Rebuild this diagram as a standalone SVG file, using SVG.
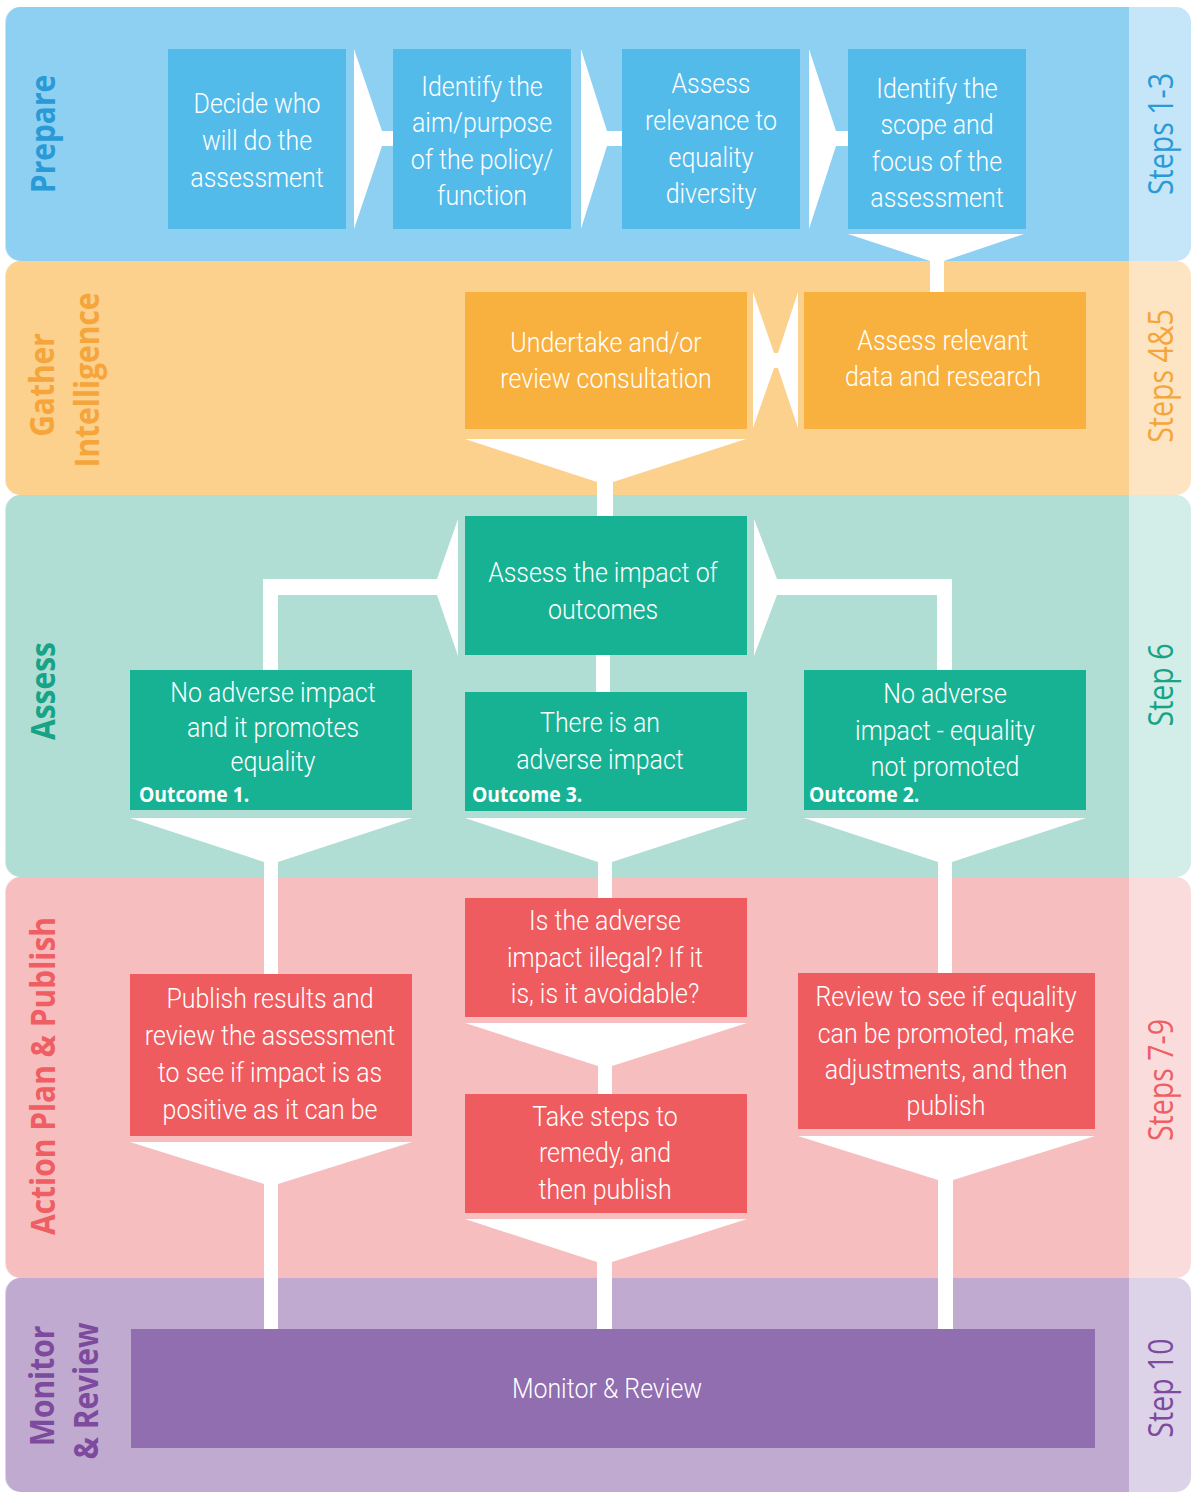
<svg xmlns="http://www.w3.org/2000/svg" width="1191" height="1493" viewBox="0 0 1191 1493">
<style>
.bt{font-family:Roboto,"Liberation Sans",sans-serif;font-weight:300;font-size:28px;fill:#fff;text-anchor:middle}
.lab{font-family:"Open Sans","Liberation Sans",sans-serif;font-weight:700;font-size:34px;text-anchor:middle}
.step{font-family:"Open Sans","Liberation Sans",sans-serif;font-weight:400;font-size:34px;text-anchor:middle}
.oc{font-family:"Open Sans","Liberation Sans",sans-serif;font-weight:700;font-size:21px;fill:#fff}
.blue{fill:#2A9AD6}.orange{fill:#F5A53A}.teal{fill:#16A386}.red{fill:#EE5E62}.purple{fill:#7D4A9E}
.bx1{fill:#52BBEA}.bx2{fill:#F8B03F}.bx3{fill:#17B294}.bx4{fill:#EE5C5F}.bx5{fill:#906EAF}
</style>
<rect width="1191" height="1493" fill="#fff"/>
<g id="bands">
<g id="band-prepare">
<rect x="5" y="7" width="1186" height="254" rx="15" fill="#C5E6F8"/>
<path d="M21,7 H1129 V261 H21 A15,15 0 0 1 6,246 V22 A15,15 0 0 1 21,7 Z" fill="#8DD0F2"/>
<text class="lab blue" transform="translate(55,134) rotate(-90) scale(0.88,1)">Prepare</text>
<text class="step blue" transform="translate(1173,134) rotate(-90) scale(0.84,1)">Steps 1-3</text>
</g>
<g id="band-gather">
<rect x="5" y="261" width="1186" height="234" rx="15" fill="#FDE5C3"/>
<path d="M21,261 H1129 V495 H21 A15,15 0 0 1 6,480 V276 A15,15 0 0 1 21,261 Z" fill="#FCD08D"/>
<text class="lab orange" transform="translate(54,385) rotate(-90) scale(0.88,1)">Gather</text>
<text class="lab orange" transform="translate(99,380) rotate(-90) scale(0.88,1)">Intelligence</text>
<text class="step orange" transform="translate(1173,376) rotate(-90) scale(0.84,1)">Steps 4&amp;5</text>
</g>
<g id="band-assess">
<rect x="5" y="495" width="1186" height="382" rx="15" fill="#D3EDE8"/>
<path d="M21,495 H1129 V877 H21 A15,15 0 0 1 6,862 V510 A15,15 0 0 1 21,495 Z" fill="#B0DDD4"/>
<text class="lab teal" transform="translate(55,691) rotate(-90) scale(0.88,1)">Assess</text>
<text class="step teal" transform="translate(1173,685) rotate(-90) scale(0.84,1)">Step 6</text>
</g>
<g id="band-action">
<rect x="5" y="877" width="1186" height="401" rx="15" fill="#FADCDC"/>
<path d="M21,877 H1129 V1278 H21 A15,15 0 0 1 6,1263 V892 A15,15 0 0 1 21,877 Z" fill="#F7BEC0"/>
<text class="lab red" transform="translate(55,1076) rotate(-90) scale(0.88,1)">Action Plan &amp; Publish</text>
<text class="step red" transform="translate(1173,1080) rotate(-90) scale(0.84,1)">Steps 7-9</text>
</g>
<g id="band-monitor">
<rect x="5" y="1278" width="1186" height="214" rx="15" fill="#DCD3E8"/>
<path d="M21,1278 H1129 V1492 H21 A15,15 0 0 1 6,1477 V1293 A15,15 0 0 1 21,1278 Z" fill="#C0AACF"/>
<text class="lab purple" transform="translate(54,1386) rotate(-90) scale(0.88,1)">Monitor</text>
<text class="lab purple" transform="translate(98,1391) rotate(-90) scale(0.88,1)">&amp; Review</text>
<text class="step purple" transform="translate(1173,1388) rotate(-90) scale(0.84,1)">Step 10</text>
</g>
</g>
<g id="connectors" fill="#fff">
<path d="M354,49 L382,131 L393,131 L393,146 L382,146 L354,229 Z"/>
<path d="M581,49 L607,131 L622,131 L622,146 L607,146 L581,229 Z"/>
<path d="M809,49 L836,131 L848,131 L848,146 L836,146 L809,229 Z"/>
<path d="M848,234 L1024,234 L944,261 L944,292 L930,292 L930,261 Z"/>
<path d="M753,292 L774,353 L778,353 L798,292 L798,428 L778,368 L774,368 L753,428 Z"/>
<path d="M465,439 L746,439 L613,482 L613,516 L597,516 L597,482 Z"/>
<path d="M458,519 L437,579 L263,579 L263,670 L278,670 L278,595 L437,595 L458,656 Z"/>
<path d="M754,519 L777,579 L952,579 L952,670 L937,670 L937,595 L777,595 L754,656 Z"/>
<rect x="596" y="655" width="14" height="37"/>
<path d="M130,818 L412,818 L278,862 L278,974 L264,974 L264,862 Z"/>
<path d="M465,818 L747,818 L612,862 L612,898 L598,898 L598,862 Z"/>
<path d="M804,818 L1086,818 L952,862 L952,973 L938,973 L938,862 Z"/>
<path d="M130,1142 L412,1142 L278,1184 L278,1330 L264,1330 L264,1184 Z"/>
<path d="M465,1023 L747,1023 L612,1066 L612,1094 L598,1094 L598,1066 Z"/>
<path d="M465,1219 L747,1219 L612,1262 L612,1330 L597,1330 L597,1262 Z"/>
<path d="M798,1136 L1095,1136 L953,1180 L953,1330 L938,1330 L938,1180 Z"/>
</g>
<g id="n1"><rect class="bx1" x="168" y="49" width="178" height="180"/>
<g transform="translate(257,0) scale(0.89,1)"><text class="bt"><tspan x="0" y="113">Decide who</tspan><tspan x="0" y="150">will do the</tspan><tspan x="0" y="187">assessment</tspan></text></g></g>
<g id="n2"><rect class="bx1" x="393" y="49" width="178" height="180"/>
<g transform="translate(482,0) scale(0.89,1)"><text class="bt"><tspan x="0" y="96">Identify the</tspan><tspan x="0" y="132">aim/purpose</tspan><tspan x="0" y="169">of the policy/</tspan><tspan x="0" y="205">function</tspan></text></g></g>
<g id="n3"><rect class="bx1" x="622" y="49" width="178" height="180"/>
<g transform="translate(711,0) scale(0.89,1)"><text class="bt"><tspan x="0" y="93">Assess</tspan><tspan x="0" y="130">relevance to</tspan><tspan x="0" y="167">equality</tspan><tspan x="0" y="203">diversity</tspan></text></g></g>
<g id="n4"><rect class="bx1" x="848" y="49" width="178" height="180"/>
<g transform="translate(937,0) scale(0.89,1)"><text class="bt"><tspan x="0" y="98">Identify the</tspan><tspan x="0" y="134">scope and</tspan><tspan x="0" y="171">focus of the</tspan><tspan x="0" y="207">assessment</tspan></text></g></g>
<g id="n5"><rect class="bx2" x="465" y="292" width="282" height="137"/>
<g transform="translate(606,0) scale(0.89,1)"><text class="bt"><tspan x="0" y="352">Undertake and/or</tspan><tspan x="0" y="388">review consultation</tspan></text></g></g>
<g id="n6"><rect class="bx2" x="804" y="292" width="282" height="137"/>
<g transform="translate(943,0) scale(0.89,1)"><text class="bt"><tspan x="0" y="350">Assess relevant</tspan><tspan x="0" y="386">data and research</tspan></text></g></g>
<g id="n7"><rect class="bx3" x="465" y="516" width="282" height="139"/>
<g transform="translate(603,0) scale(0.89,1)"><text class="bt"><tspan x="0" y="582">Assess the impact of</tspan><tspan x="0" y="619">outcomes</tspan></text></g></g>
<g id="n8"><rect class="bx3" x="130" y="670" width="282" height="140"/>
<g transform="translate(273,0) scale(0.89,1)"><text class="bt"><tspan x="0" y="702">No adverse impact</tspan><tspan x="0" y="737">and it promotes</tspan><tspan x="0" y="771">equality</tspan></text></g>
<text class="oc" transform="translate(139,802) scale(0.92,1)">Outcome 1.</text></g>
<g id="n9"><rect class="bx3" x="465" y="692" width="282" height="119"/>
<g transform="translate(600,0) scale(0.89,1)"><text class="bt"><tspan x="0" y="732">There is an</tspan><tspan x="0" y="769">adverse impact</tspan></text></g>
<text class="oc" transform="translate(472,802) scale(0.92,1)">Outcome 3.</text></g>
<g id="n10"><rect class="bx3" x="804" y="670" width="282" height="140"/>
<g transform="translate(945,0) scale(0.89,1)"><text class="bt"><tspan x="0" y="703">No adverse</tspan><tspan x="0" y="740">impact - equality</tspan><tspan x="0" y="776">not promoted</tspan></text></g>
<text class="oc" transform="translate(809,802) scale(0.92,1)">Outcome 2.</text></g>
<g id="n11"><rect class="bx4" x="130" y="974" width="282" height="162"/>
<g transform="translate(270,0) scale(0.89,1)"><text class="bt"><tspan x="0" y="1008">Publish results and</tspan><tspan x="0" y="1045">review the assessment</tspan><tspan x="0" y="1082">to see if impact is as</tspan><tspan x="0" y="1119">positive as it can be</tspan></text></g></g>
<g id="n12"><rect class="bx4" x="465" y="898" width="282" height="119"/>
<g transform="translate(605,0) scale(0.89,1)"><text class="bt"><tspan x="0" y="930">Is the adverse</tspan><tspan x="0" y="967">impact illegal? If it</tspan><tspan x="0" y="1003">is, is it avoidable?</tspan></text></g></g>
<g id="n13"><rect class="bx4" x="465" y="1094" width="282" height="119"/>
<g transform="translate(605,0) scale(0.89,1)"><text class="bt"><tspan x="0" y="1126">Take steps to</tspan><tspan x="0" y="1162">remedy, and</tspan><tspan x="0" y="1199">then publish</tspan></text></g></g>
<g id="n14"><rect class="bx4" x="798" y="973" width="297" height="156"/>
<g transform="translate(946,0) scale(0.89,1)"><text class="bt"><tspan x="0" y="1006">Review to see if equality</tspan><tspan x="0" y="1043">can be promoted, make</tspan><tspan x="0" y="1079">adjustments, and then</tspan><tspan x="0" y="1115">publish</tspan></text></g></g>
<g id="n15"><rect class="bx5" x="131" y="1329" width="964" height="119"/>
<g transform="translate(607,0) scale(0.89,1)"><text class="bt"><tspan x="0" y="1398">Monitor &amp; Review</tspan></text></g></g>
</svg>
